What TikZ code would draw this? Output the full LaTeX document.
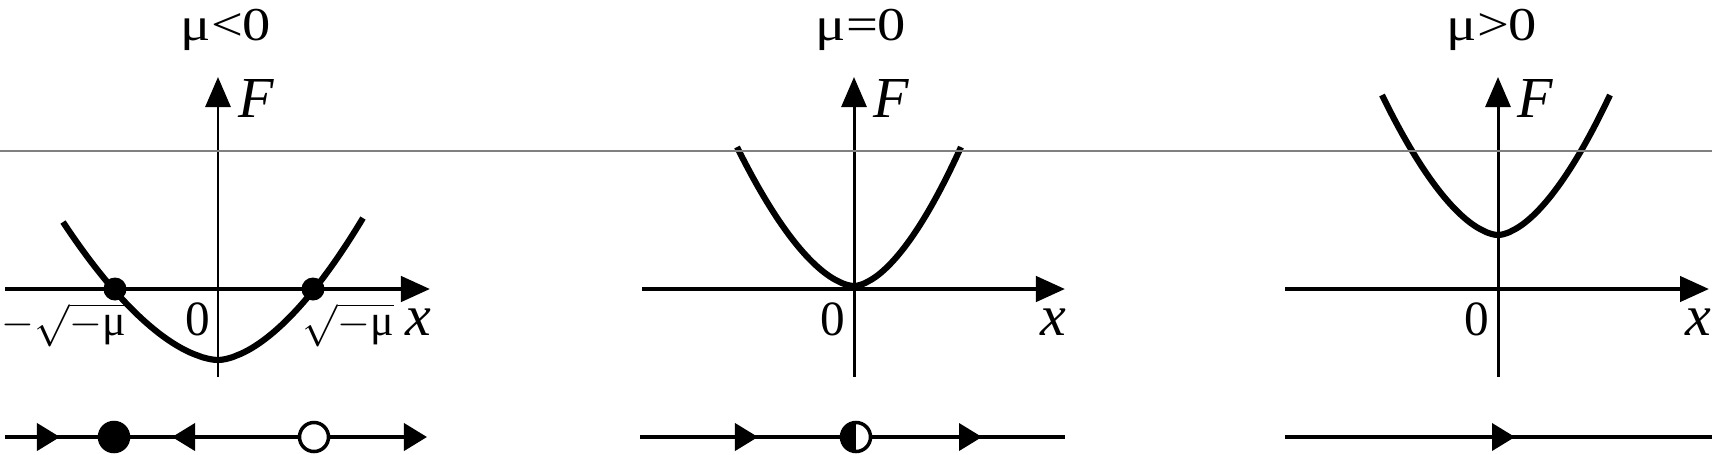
\documentclass[tikz,border=0pt]{standalone}
\usepackage{fontspec}
\setmainfont{Liberation Serif}
\usepackage{graphicx}
\usetikzlibrary{arrows.meta}
\newcommand\mytitle[1]{\scalebox{1.2}[1]{#1}}
\tikzset{
  xaxis/.style={line width=1.25pt, -{Triangle[length=0.29cm,width=0.25cm]}},
  faxis/.style={line width=0.85pt, -{Triangle[length=0.30cm,width=0.25cm]}},
  curvestyle/.style={line width=1.75pt, line join=round},
  phase/.style={line width=1.1pt},
  ptip/.style={line width=1.1pt, -{Triangle[length=0.23cm,width=0.27cm]}},
  ttl/.style={anchor=base, inner sep=0pt, font=\fontsize{13.4pt}{16pt}\selectfont},
  axl/.style={anchor=base, inner sep=0pt, font=\fontsize{16.5pt}{20pt}\selectfont\itshape},
  zero/.style={anchor=base, inner sep=0pt, font=\fontsize{14pt}{17pt}\selectfont},
  rootl/.style={inner sep=0pt, font=\fontsize{12.5pt}{15pt}\selectfont},
  adot/.style={circle, fill=black, inner sep=0pt, minimum size=0.23cm},
  pdot/.style={circle, draw=black, line width=1pt, inner sep=0pt, minimum size=0.29cm},
  grayline/.style={line width=0.3pt, color=black!50},
}
\begin{document}
\begin{tikzpicture}[x=0.01cm, y=-0.01cm]
\useasboundingbox (0,0) rectangle (1712,454);

% ---------- panel 1 ----------
\coordinate (x1s) at (5,289);   \coordinate (x1e) at (430,289);
\coordinate (f1s) at (218,377); \coordinate (f1e) at (218,77);
\draw[xaxis] (x1s) -- (x1e);
\draw[faxis] (f1s) -- (f1e);
\draw[curvestyle] plot[domain=-1:0, samples=40] ({218+155*\x},{360-138*pow(abs(\x)+0.00001,1.7)})
  -- plot[domain=0:1, samples=40] ({218+145*\x},{360-142*pow(abs(\x)+0.00001,1.7)});
\node[adot] (e1) at (115,289) {};
\node[adot] (e2) at (313,289) {};
\node[ttl] (t1) at (226,40) {\mytitle{μ<0}};
\node[axl] (F1) at (256,117) {F};
\node[zero] (z1) at (198,335) {0};
\node[axl] (xl1) at (418,335) {x};
\node[rootl, anchor=base west] (r1) at (1,335) {$-\sqrt{-\mbox{μ}}$};
\node[rootl, anchor=base west] (r2) at (302,335) {$\sqrt{-\mbox{μ}}$};

\coordinate (p1s) at (5,437); \coordinate (p1e) at (427,437);
\coordinate (p1a) at (60,437); \coordinate (p1b) at (172,437);
\draw[ptip] (p1s) -- (p1e);
\draw[ptip] (p1s) -- (p1a);
\node[pdot, fill=white] (o1) at (314,437) {};
\draw[ptip] (o1) -- (p1b);
\node[pdot, fill=black] (s1) at (114,437) {};

% ---------- panel 2 ----------
\coordinate (x2s) at (642,289);  \coordinate (x2e) at (1065,289);
\coordinate (f2s) at (854,377);  \coordinate (f2e) at (854,77);
\draw[xaxis] (x2s) -- (x2e);
\draw[faxis] (f2s) -- (f2e);
\draw[curvestyle] plot[domain=-1:0, samples=40] ({854+117*\x},{286-139*pow(abs(\x)+0.00001,1.7)})
  -- plot[domain=0:1, samples=40] ({854+107*\x},{286-139*pow(abs(\x)+0.00001,1.7)});
\node[ttl] (t2) at (861,40) {\mytitle{μ=0}};
\node[axl] (F2) at (891,117) {F};
\node[zero] (z2) at (833,335) {0};
\node[axl] (xl2) at (1053,335) {x};

\coordinate (p2s) at (640,437); \coordinate (p2e) at (1065,437);
\coordinate (p2a) at (758,437); \coordinate (p2b) at (982,437);
\draw[phase] (p2s) -- (p2e);
\draw[ptip] (p2s) -- (p2a);
\node[pdot, fill=white, path picture={\fill[black] (path picture bounding box.north west) rectangle (path picture bounding box.south);}] (h2) at (856,437) {};
\draw[ptip] (h2) -- (p2b);

% ---------- panel 3 ----------
\coordinate (x3s) at (1285,289); \coordinate (x3e) at (1709,289);
\coordinate (f3s) at (1498,377); \coordinate (f3e) at (1498,77);
\draw[xaxis] (x3s) -- (x3e);
\draw[faxis] (f3s) -- (f3e);
\draw[curvestyle] plot[domain=-1:0, samples=40] ({1498+116*\x},{235-140*pow(abs(\x)+0.00001,1.7)})
  -- plot[domain=0:1, samples=40] ({1498+112*\x},{235-140*pow(abs(\x)+0.00001,1.7)});
\node[ttl] (t3) at (1492,40) {\mytitle{μ>0}};
\node[axl] (F3) at (1535,117) {F};
\node[zero] (z3) at (1477,335) {0};
\node[axl] (xl3) at (1698,335) {x};

\coordinate (p3s) at (1285,437); \coordinate (p3e) at (1712,437);
\coordinate (p3a) at (1515,437);
\draw[phase] (p3s) -- (p3e);
\draw[ptip] (p3s) -- (p3a);

% ---------- thin gray line ----------
\coordinate (g1) at (0,151); \coordinate (g2) at (1712,151);
\draw[grayline] (g1) -- (g2);
\end{tikzpicture}
\end{document}
